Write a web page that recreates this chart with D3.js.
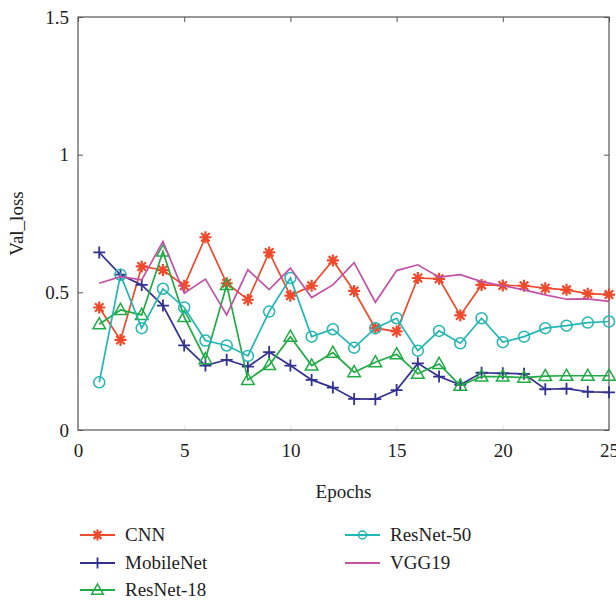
<!DOCTYPE html>
<html>
<head>
<meta charset="utf-8">
<script src="https://cdn.jsdelivr.net/npm/d3@7"></script>
<style>
  body { margin: 0; background: #fff; }
  svg text { font-family: "Liberation Serif", "Times New Roman", Times, serif; fill: #222; }
</style>
</head>
<body>
<div id="chart"></div>
<script>
const epochs = d3.range(1, 26);

const cnn = [0.445, 0.327, 0.594, 0.581, 0.524, 0.700, 0.533, 0.473, 0.645, 0.488,
    0.524, 0.616, 0.505, 0.370, 0.358, 0.552, 0.549, 0.416, 0.527, 0.525,
    0.524, 0.515, 0.509, 0.495, 0.492];
const mobileNet = [0.645, 0.564, 0.527, 0.452, 0.307, 0.234, 0.255, 0.230, 0.283, 0.234,
    0.182, 0.154, 0.113, 0.112, 0.145, 0.242, 0.194, 0.164, 0.208, 0.206,
    0.204, 0.148, 0.150, 0.139, 0.137];
const resNet18 = [0.384, 0.436, 0.418, 0.648, 0.410, 0.257, 0.527, 0.182, 0.236, 0.339,
    0.234, 0.281, 0.210, 0.246, 0.275, 0.204, 0.240, 0.161, 0.194, 0.194,
    0.190, 0.196, 0.197, 0.197, 0.197];
const resNet50 = [0.173, 0.564, 0.370, 0.513, 0.445, 0.325, 0.307, 0.269, 0.430, 0.552,
    0.339, 0.366, 0.299, 0.370, 0.406, 0.288, 0.360, 0.315, 0.406, 0.319,
    0.339, 0.370, 0.379, 0.390, 0.394];
const vgg19 = [0.533, 0.557, 0.545, 0.685, 0.497, 0.548, 0.418, 0.582, 0.510, 0.588,
    0.481, 0.527, 0.608, 0.464, 0.579, 0.600, 0.555, 0.564, 0.539, 0.524,
    0.509, 0.491, 0.475, 0.476, 0.467];

const xTicks = [0, 5, 10, 15, 20, 25];
const yTicks = [0, 0.5, 1, 1.5];

const seriesList = [
    {name: 'CNN', values: cnn, color: '#ef4a2c', marker: 'star'},
    {name: 'MobileNet', values: mobileNet, color: '#32318f', marker: 'plus'},
    {name: 'ResNet-18', values: resNet18, color: '#20ab45', marker: 'triangle'},
    {name: 'ResNet-50', values: resNet50, color: '#22b6b4', marker: 'circle'},
    {name: 'VGG19', values: vgg19, color: '#c052a8', marker: null}
];

const FONT = '"Liberation Serif", "Times New Roman", Times, serif';
const width = 616, height = 603;
const margin = {left: 78, right: 7, top: 17, bottom: 173};
const innerW = width - margin.left - margin.right;
const innerH = height - margin.top - margin.bottom;

const svg = d3.select('#chart').append('svg')
    .attr('width', width)
    .attr('height', height);

const x = d3.scaleLinear().domain([0, 25]).range([margin.left, margin.left + innerW]);
const y = d3.scaleLinear().domain([0, 1.5]).range([margin.top + innerH, margin.top]);

// frame + mirrored ticks, MATLAB style
const axisColor = '#555';
const tickLen = 5;

svg.append('g')
    .attr('transform', 'translate(0,' + y(0) + ')')
    .call(d3.axisBottom(x).tickValues(xTicks).tickSize(-tickLen).tickPadding(14).tickFormat(d3.format('d')))
    .call(g => g.attr('font-family', FONT))
    .call(g => g.select('.domain').remove())
    .call(g => g.selectAll('line').attr('stroke', '#e4e4e4'))
    .call(g => g.selectAll('text').attr('font-size', 19).attr('fill', '#222'));

svg.append('g')
    .attr('transform', 'translate(0,' + y(1.5) + ')')
    .call(d3.axisTop(x).tickValues(xTicks).tickSize(-tickLen).tickFormat(''))
    .call(g => g.select('.domain').remove())
    .call(g => g.selectAll('line').attr('stroke', axisColor));

svg.append('g')
    .attr('transform', 'translate(' + x(0) + ',0)')
    .call(d3.axisLeft(y).tickValues(yTicks).tickSize(-tickLen).tickPadding(9).tickFormat(d => String(d)))
    .call(g => g.attr('font-family', FONT))
    .call(g => g.select('.domain').remove())
    .call(g => g.selectAll('line').attr('stroke', axisColor))
    .call(g => g.selectAll('text').attr('font-size', 19).attr('fill', '#222'));

svg.append('g')
    .attr('transform', 'translate(' + x(25) + ',0)')
    .call(d3.axisRight(y).tickValues(yTicks).tickSize(-tickLen).tickFormat(''))
    .call(g => g.select('.domain').remove())
    .call(g => g.selectAll('line').attr('stroke', axisColor));

svg.append('rect')
    .attr('x', x(0))
    .attr('y', y(1.5))
    .attr('width', x(25) - x(0))
    .attr('height', y(0) - y(1.5))
    .attr('fill', 'none')
    .attr('stroke', axisColor)
    .attr('stroke-width', 1.2);

// axis titles
svg.append('text')
    .attr('x', (x(0) + x(25)) / 2)
    .attr('y', 498)
    .attr('text-anchor', 'middle')
    .attr('font-size', 19)
    .text('Epochs');

svg.append('text')
    .attr('transform', 'translate(23,' + y(0.75) + ') rotate(-90)')
    .attr('text-anchor', 'middle')
    .attr('font-size', 19)
    .text('Val_loss');

function drawMarker(sel, type, color, size) {
    let s = size;
    if (type === 'circle') {
        sel.append('circle').attr('r', s).attr('fill', 'none').attr('stroke', color).attr('stroke-width', 1.5);
    } else if (type === 'triangle') {
        sel.append('path')
            .attr('d', 'M0,' + (-s * 1.1) + 'L' + (s * 1.05) + ',' + (s * 0.75) + 'L' + (-s * 1.05) + ',' + (s * 0.75) + 'Z')
            .attr('fill', 'none').attr('stroke', color).attr('stroke-width', 1.5);
    } else if (type === 'plus') {
        sel.append('path')
            .attr('d', 'M' + (-s) + ',0H' + s + 'M0,' + (-s) + 'V' + s)
            .attr('stroke', color).attr('stroke-width', 1.8);
    } else if (type === 'star') {
        let d = '';
        for (let k = 0; k < 4; k++) {
            let a = k * Math.PI / 4;
            d += 'M' + (-s * Math.cos(a)) + ',' + (-s * Math.sin(a)) + 'L' + (s * Math.cos(a)) + ',' + (s * Math.sin(a));
        }
        sel.append('path').attr('d', d).attr('stroke', color).attr('stroke-width', 2.2);
    }
}

const line = d3.line()
    .x((d, i) => x(epochs[i]))
    .y(d => y(d));

seriesList.forEach(s => {
    let g = svg.append('g').attr('class', 'series');
    g.append('path')
        .datum(s.values)
        .attr('d', line)
        .attr('fill', 'none')
        .attr('stroke', s.color)
        .attr('stroke-width', 1.7);
    if (s.marker) {
        g.selectAll('.mk')
            .data(s.values)
            .enter()
            .append('g')
            .attr('class', 'mk')
            .attr('transform', (d, i) => 'translate(' + x(epochs[i]) + ',' + y(d) + ')')
            .each(function() {
                drawMarker(d3.select(this), s.marker, s.color, s.marker === 'circle' ? 5.5 : 6);
            });
    }
});

// legend
const legendPos = [
    {lx: 80, ly: 535},
    {lx: 80, ly: 563},
    {lx: 80, ly: 590},
    {lx: 345, ly: 535},
    {lx: 345, ly: 563}
];
seriesList.forEach((s, i) => {
    let p = legendPos[i];
    let g = svg.append('g').attr('transform', 'translate(' + p.lx + ',' + p.ly + ')');
    g.append('line')
        .attr('x1', 0).attr('x2', 35)
        .attr('stroke', s.color).attr('stroke-width', 1.8);
    if (s.marker) {
        let m = g.append('g').attr('transform', 'translate(17.5,0)');
        drawMarker(m, s.marker, s.color, s.marker === 'circle' ? 4 : 5.5);
    }
    g.append('text')
        .attr('x', 45)
        .attr('dy', '0.33em')
        .attr('font-size', 19)
        .text(s.name);
});
</script>
</body>
</html>
